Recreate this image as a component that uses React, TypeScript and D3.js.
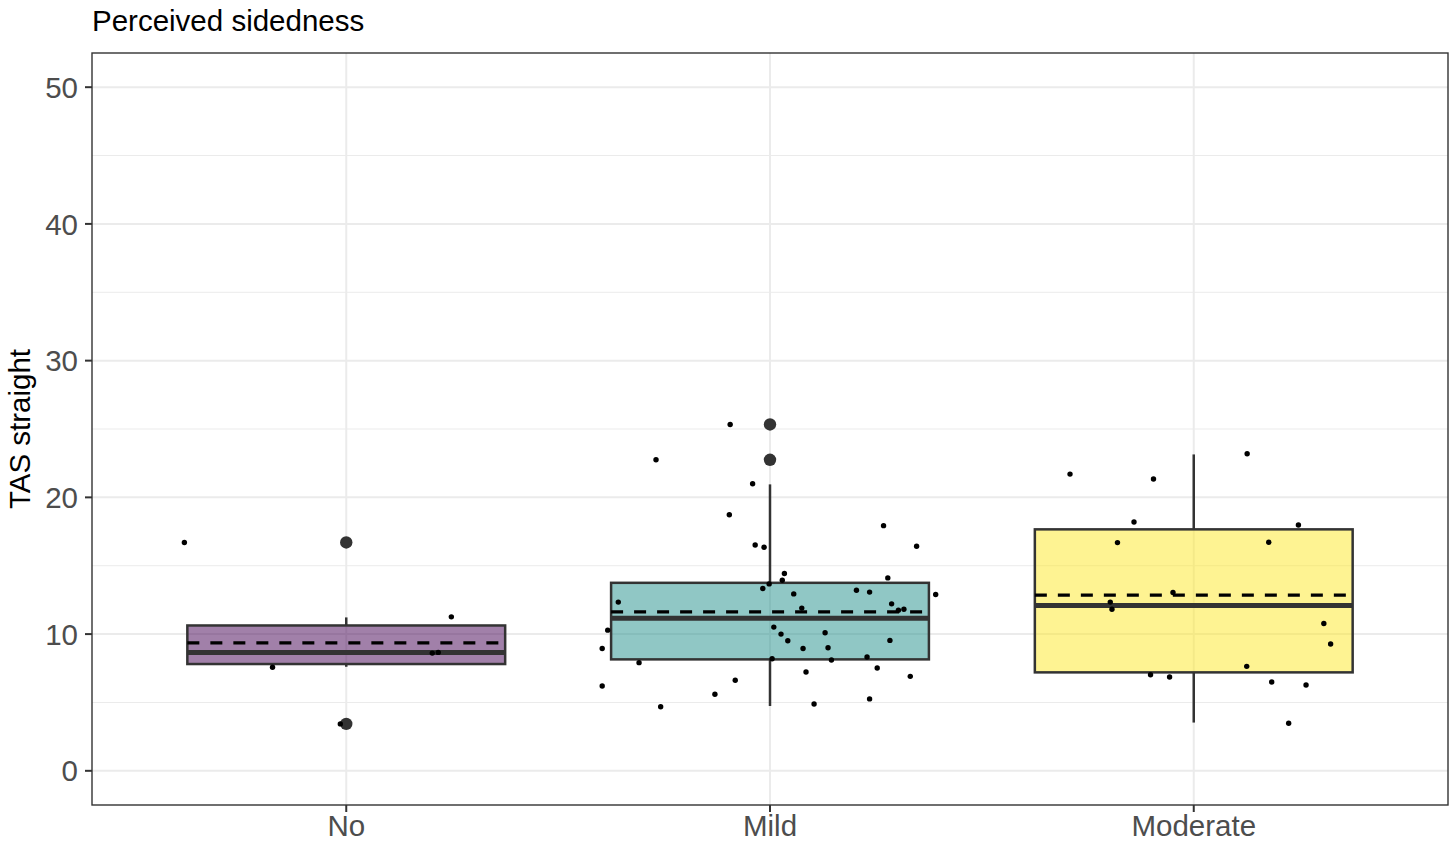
import * as d3 from "d3";

// categories and box statistics
const categories = ["No", "Mild", "Moderate"];
const boxQ1 = [7.81, 8.15, 7.2];
const boxMedian = [8.66, 11.15, 12.09];
const boxQ3 = [10.63, 13.75, 17.66];
const whiskerLow = [7.61, 4.74, 3.53];
const whiskerHigh = [11.22, 20.95, 23.14];
const groupMean = [9.36, 11.63, 12.85];
const fills = ["#440154", "#21908C", "#FDE725"];

// outliers (drawn by the boxplot)
const outlierGroup = ["No", "No", "Mild", "Mild"];
const outlierValue = [16.7, 3.43, 25.33, 22.75];

// jittered raw points: value, and horizontal jitter in category steps
const noValues = [16.7, 11.26, 8.61, 8.66, 7.57, 3.43];
const noJitter = [-0.382, 0.248, 0.203, 0.217, -0.174, -0.014];

const mildValues = [
  25.33, 22.75, 21.0, 18.73, 17.93, 16.52, 16.35, 16.42, 14.43, 13.94, 14.11, 13.67,
  13.33, 13.21, 13.07, 12.9, 12.94, 12.34, 12.21, 11.9, 11.75, 11.82, 10.29, 10.51,
  10.0, 10.1, 9.51, 9.54, 8.95, 8.95, 9.0, 8.2, 8.32, 7.91, 8.1, 7.52, 7.23, 6.91,
  6.62, 6.2, 5.6, 5.26, 4.69, 4.89,
];
const mildJitter = [
  -0.094, -0.269, -0.041, -0.096, 0.268, -0.035, -0.014, 0.346, 0.034, 0.029, 0.278, -0.002,
  -0.017, 0.204, 0.235, 0.391, 0.056, -0.358, 0.287, 0.075, 0.303, 0.316, -0.383, 0.009,
  0.026, 0.13, 0.042, 0.283, -0.396, 0.078, 0.137, 0.005, 0.229, -0.309, 0.145, 0.253, 0.085, 0.331,
  -0.082, -0.396, -0.13, 0.235, -0.258, 0.104,
];

const moderateValues = [
  23.19, 21.7, 21.34, 18.2, 17.98, 16.69, 16.72, 13.04, 12.34, 11.82, 10.78, 9.27,
  7.64, 7.03, 6.86, 6.5, 6.28, 3.48,
];
const moderateJitter = [
  0.126, -0.292, -0.095, -0.141, 0.247, -0.18, 0.177, -0.049, -0.197, -0.193, 0.307, 0.323,
  0.125, -0.102, -0.057, 0.184, 0.265, 0.224,
];

const yTicks = [0, 10, 20, 30, 40, 50];
const yMinor = [5, 15, 25, 35, 45];

const W = 1451;
const H = 843;
const panel = { left: 92, right: 1448, top: 53, bottom: 805 };
const FONT = "'Liberation Sans', Arial, Helvetica, sans-serif";
const FS = 29.5;

export default function App() {
  const x = d3
    .scalePoint<string>()
    .domain(categories)
    .range([panel.left, panel.right])
    .padding(0.6);
  const step = x.step();
  const halfBox = step * 0.375;

  const y = d3.scaleLinear().domain([-2.5, 52.5]).range([panel.bottom, panel.top]);

  const points = [
    ...noValues.map((v, i) => ({ cat: "No", v, j: noJitter[i] })),
    ...mildValues.map((v, i) => ({ cat: "Mild", v, j: mildJitter[i] })),
    ...moderateValues.map((v, i) => ({ cat: "Moderate", v, j: moderateJitter[i] })),
  ];

  const boxStroke = "#333333";

  return (
    <svg
      width={W}
      height={H}
      style={{ position: "absolute", left: 0, top: 0, background: "#fff" }}
      fontFamily={FONT}
    >
      <rect x={0} y={0} width={W} height={H} fill="#fff" />

      {/* grid */}
      {yMinor.map((t) => (
        <line key={"mi" + t} x1={panel.left} x2={panel.right} y1={y(t)} y2={y(t)} stroke="#ebebeb" strokeWidth={1} />
      ))}
      {yTicks.map((t) => (
        <line key={"ma" + t} x1={panel.left} x2={panel.right} y1={y(t)} y2={y(t)} stroke="#ebebeb" strokeWidth={2} />
      ))}
      {categories.map((c) => (
        <line key={"vx" + c} x1={x(c)} x2={x(c)} y1={panel.top} y2={panel.bottom} stroke="#ebebeb" strokeWidth={2} />
      ))}

      {/* boxplots */}
      {categories.map((c, i) => {
        const cx = x(c)!;
        return (
          <g key={"box" + c}>
            <line x1={cx} x2={cx} y1={y(boxQ3[i])} y2={y(whiskerHigh[i])} stroke={boxStroke} strokeWidth={2.5} />
            <line x1={cx} x2={cx} y1={y(boxQ1[i])} y2={y(whiskerLow[i])} stroke={boxStroke} strokeWidth={2.5} />
            <rect
              x={cx - halfBox}
              y={y(boxQ3[i])}
              width={halfBox * 2}
              height={y(boxQ1[i]) - y(boxQ3[i])}
              fill={fills[i]}
              fillOpacity={0.5}
              stroke={boxStroke}
              strokeWidth={2.5}
            />
            <line x1={cx - halfBox} x2={cx + halfBox} y1={y(boxMedian[i])} y2={y(boxMedian[i])} stroke={boxStroke} strokeWidth={5} />
          </g>
        );
      })}
      {outlierValue.map((v, i) => (
        <circle key={"out" + i} cx={x(outlierGroup[i])} cy={y(v)} r={6.2} fill={boxStroke} />
      ))}

      {/* means */}
      {categories.map((c, i) => {
        const cx = x(c)!;
        return (
          <line
            key={"mean" + c}
            x1={cx - halfBox}
            x2={cx + halfBox}
            y1={y(groupMean[i])}
            y2={y(groupMean[i])}
            stroke="#000"
            strokeWidth={3.2}
            strokeDasharray="12,11"
          />
        );
      })}

      {/* jittered points */}
      {points.map((p, i) => (
        <circle key={"pt" + i} cx={x(p.cat)! + p.j * step} cy={y(p.v)} r={2.7} fill="#000" />
      ))}

      {/* panel border */}
      <rect
        x={panel.left}
        y={panel.top}
        width={panel.right - panel.left}
        height={panel.bottom - panel.top}
        fill="none"
        stroke="#333333"
        strokeWidth={1.4}
      />

      {/* y axis */}
      {yTicks.map((t) => (
        <g key={"yt" + t}>
          <line x1={panel.left - 7} x2={panel.left} y1={y(t)} y2={y(t)} stroke="#333333" strokeWidth={2} />
          <text x={panel.left - 14} y={y(t)} dy="0.36em" textAnchor="end" fontSize={FS} fill="#4d4d4d">
            {t}
          </text>
        </g>
      ))}

      {/* x axis */}
      {categories.map((c) => (
        <g key={"xt" + c}>
          <line x1={x(c)} x2={x(c)} y1={panel.bottom} y2={panel.bottom + 7} stroke="#333333" strokeWidth={2} />
          <text x={x(c)} y={836} textAnchor="middle" fontSize={FS} fill="#4d4d4d">
            {c}
          </text>
        </g>
      ))}

      {/* titles */}
      <text
        transform={`translate(30,${(panel.top + panel.bottom) / 2}) rotate(-90)`}
        textAnchor="middle"
        fontSize={FS}
        fill="#000"
      >
        TAS straight
      </text>
      <text x={92} y={31} fontSize={FS} fill="#000">
        Perceived sidedness
      </text>
    </svg>
  );
}
